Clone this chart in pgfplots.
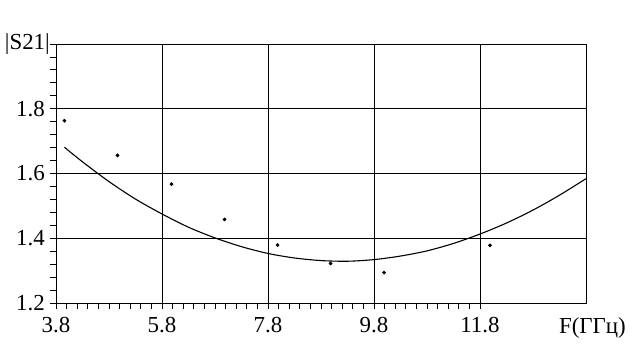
\documentclass[border=0pt]{standalone}
\usepackage{fontspec}
\setmainfont{Liberation Serif}
\usepackage{pgfplots}
\pgfplotsset{compat=1.18}
\begin{document}
\begin{tikzpicture}
\begin{axis}[
  name=ax,
  scale only axis,
  width=530bp, height=259bp,
  xmin=3.8, xmax=13.8, ymin=1.2, ymax=2.0,
  xtick={3.8,5.8,7.8,9.8,11.8},
  xticklabels={3.8,5.8,7.8,9.8,11.8},
  ytick={1.2,1.4,1.6,1.8,2.0},
  yticklabels={1.2,1.4,1.6,1.8,},
  minor x tick num=9,
  minor y tick num=4,
  tick align=outside,
  xtick pos=bottom, ytick pos=left,
  major tick length=6bp, minor tick length=6bp,
  tick style={black, line width=0.8bp},
  grid=major,
  major grid style={black, line width=0.8bp},
  axis line style={black, line width=0.8bp},
  /pgf/number format/assume math mode=true,
  tick label style={font=\fontsize{23}{27}\selectfont, inner sep=0pt},
  xticklabel style={anchor=north, yshift=-8bp},
  yticklabel style={anchor=east, xshift=-5bp},
  clip=false,
]
\addplot[black, line width=1.1bp, smooth] coordinates {
(3.96,1.681) (4.3,1.636) (4.8,1.575) (5.3,1.521) (5.8,1.475) (6.3,1.434)
(6.8,1.401) (7.3,1.374) (7.8,1.353) (8.3,1.339) (8.8,1.331) (9.3,1.329)
(9.8,1.334) (10.3,1.345) (10.8,1.361) (11.3,1.384) (11.8,1.413) (12.3,1.447)
(12.8,1.487) (13.3,1.533) (13.8,1.584)
};
\addplot[only marks, mark=*, mark size=1.7bp, black] coordinates {
(3.96,1.763) (4.96,1.656) (5.98,1.567) (6.98,1.458) (7.98,1.379)
(8.98,1.322) (9.99,1.294) (11.99,1.378)
};
\node[anchor=east, inner sep=0pt, font=\fontsize{23}{27}\selectfont] at (axis cs:3.8,2.0) [xshift=-6bp] {|S21|};
\node[anchor=north, inner sep=0pt, font=\fontsize{23}{27}\selectfont] at (axis cs:13.8,1.2) [xshift=6.5bp, yshift=-14bp] {F(ГГц)};
\end{axis}
\pgfresetboundingbox
\path[use as bounding box] ([xshift=-56bp,yshift=-55bp]ax.south west) rectangle ([xshift=58bp,yshift=44bp]ax.north east);
\end{tikzpicture}
\end{document}
